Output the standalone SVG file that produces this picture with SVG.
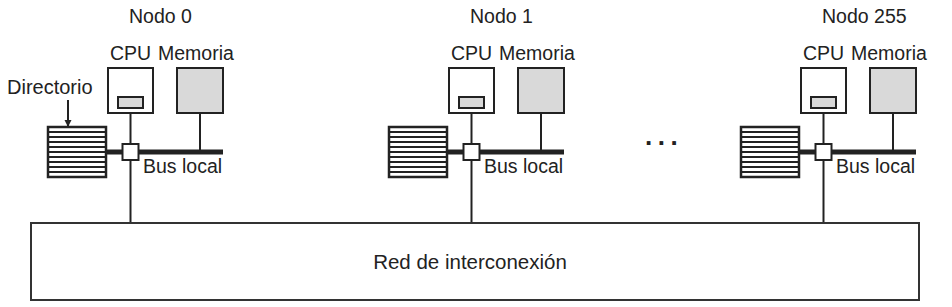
<svg xmlns="http://www.w3.org/2000/svg" width="952" height="307" viewBox="0 0 952 307">
<defs>
<style>
text{font-family:"Liberation Sans",Arial,sans-serif;font-size:19.5px;fill:#222}
.box{fill:#fff;stroke:#222;stroke-width:2}
.gray{fill:#d9d9d9;stroke:#222;stroke-width:2}
.ln{stroke:#222;stroke-width:2;fill:none}
.bus{stroke:#222;stroke-width:5;fill:none}
.stripe{stroke:#222;stroke-width:2}
</style>
<marker id="arr" viewBox="0 0 10 10" refX="10" refY="5" markerWidth="7" markerHeight="10" orient="auto" markerUnits="userSpaceOnUse">
<path d="M0,0 L10,5 L0,10 z" fill="#222"/>
</marker>
<g id="dir">
<rect x="48" y="127" width="58" height="50" fill="#fff" stroke="#222" stroke-width="2.5"/>
<path class="stripe" d="M48,132H106M48,137H106M48,142H106M48,147H106M48,152H106M48,157H106M48,162H106M48,167H106M48,172H106"/>
</g>
</defs>
<g id="connectors">
<line class="bus" x1="106" y1="152" x2="223" y2="152"/>
<line class="ln" x1="130.5" y1="113" x2="130.5" y2="223"/>
<line class="ln" x1="200" y1="113" x2="200" y2="152"/>
<line class="bus" x1="447" y1="152" x2="564" y2="152"/>
<line class="ln" x1="471.5" y1="113" x2="471.5" y2="223"/>
<line class="ln" x1="541" y1="113" x2="541" y2="152"/>
<line class="bus" x1="799" y1="152" x2="916" y2="152"/>
<line class="ln" x1="823.5" y1="113" x2="823.5" y2="223"/>
<line class="ln" x1="893" y1="113" x2="893" y2="152"/>
<line class="ln" x1="68" y1="100" x2="68" y2="127" marker-end="url(#arr)"/>
</g>
<g id="node0">
<text x="129" y="23">Nodo 0</text>
<text x="110" y="60">CPU</text>
<text x="158" y="60">Memoria</text>
<rect class="box" x="108" y="68" width="45" height="45"/>
<rect class="gray" x="118" y="97" width="25" height="11"/>
<rect class="gray" x="177" y="68" width="46" height="45"/>
<use href="#dir"/>
<rect class="box" x="122.5" y="144" width="16" height="16"/>
<text x="143" y="173">Bus local</text>
<text x="7" y="94" style="font-size:20px">Directorio</text>
</g>
<g id="node1" transform="translate(341,0)">
<text x="129" y="23">Nodo 1</text>
<text x="110" y="60">CPU</text>
<text x="158" y="60">Memoria</text>
<rect class="box" x="108" y="68" width="45" height="45"/>
<rect class="gray" x="118" y="97" width="25" height="11"/>
<rect class="gray" x="177" y="68" width="46" height="45"/>
<use href="#dir"/>
<rect class="box" x="122.5" y="144" width="16" height="16"/>
<text x="143" y="173">Bus local</text>
</g>
<g id="node255" transform="translate(693,0)">
<text x="129" y="23">Nodo 255</text>
<text x="110" y="60">CPU</text>
<text x="158" y="60">Memoria</text>
<rect class="box" x="108" y="68" width="45" height="45"/>
<rect class="gray" x="118" y="97" width="25" height="11"/>
<rect class="gray" x="177" y="68" width="46" height="45"/>
<use href="#dir"/>
<rect class="box" x="122.5" y="144" width="16" height="16"/>
<text x="143" y="173">Bus local</text>
</g>
<g id="ellipsis">
<text x="645" y="145" style="font-size:26px;font-weight:bold;letter-spacing:5.5px">...</text>
</g>
<g id="network">
<rect x="31" y="223" width="888" height="77" fill="#fff" stroke="#333" stroke-width="2"/>
<text x="470" y="269" text-anchor="middle" style="font-size:20.5px">Red de interconexión</text>
</g>
</svg>
